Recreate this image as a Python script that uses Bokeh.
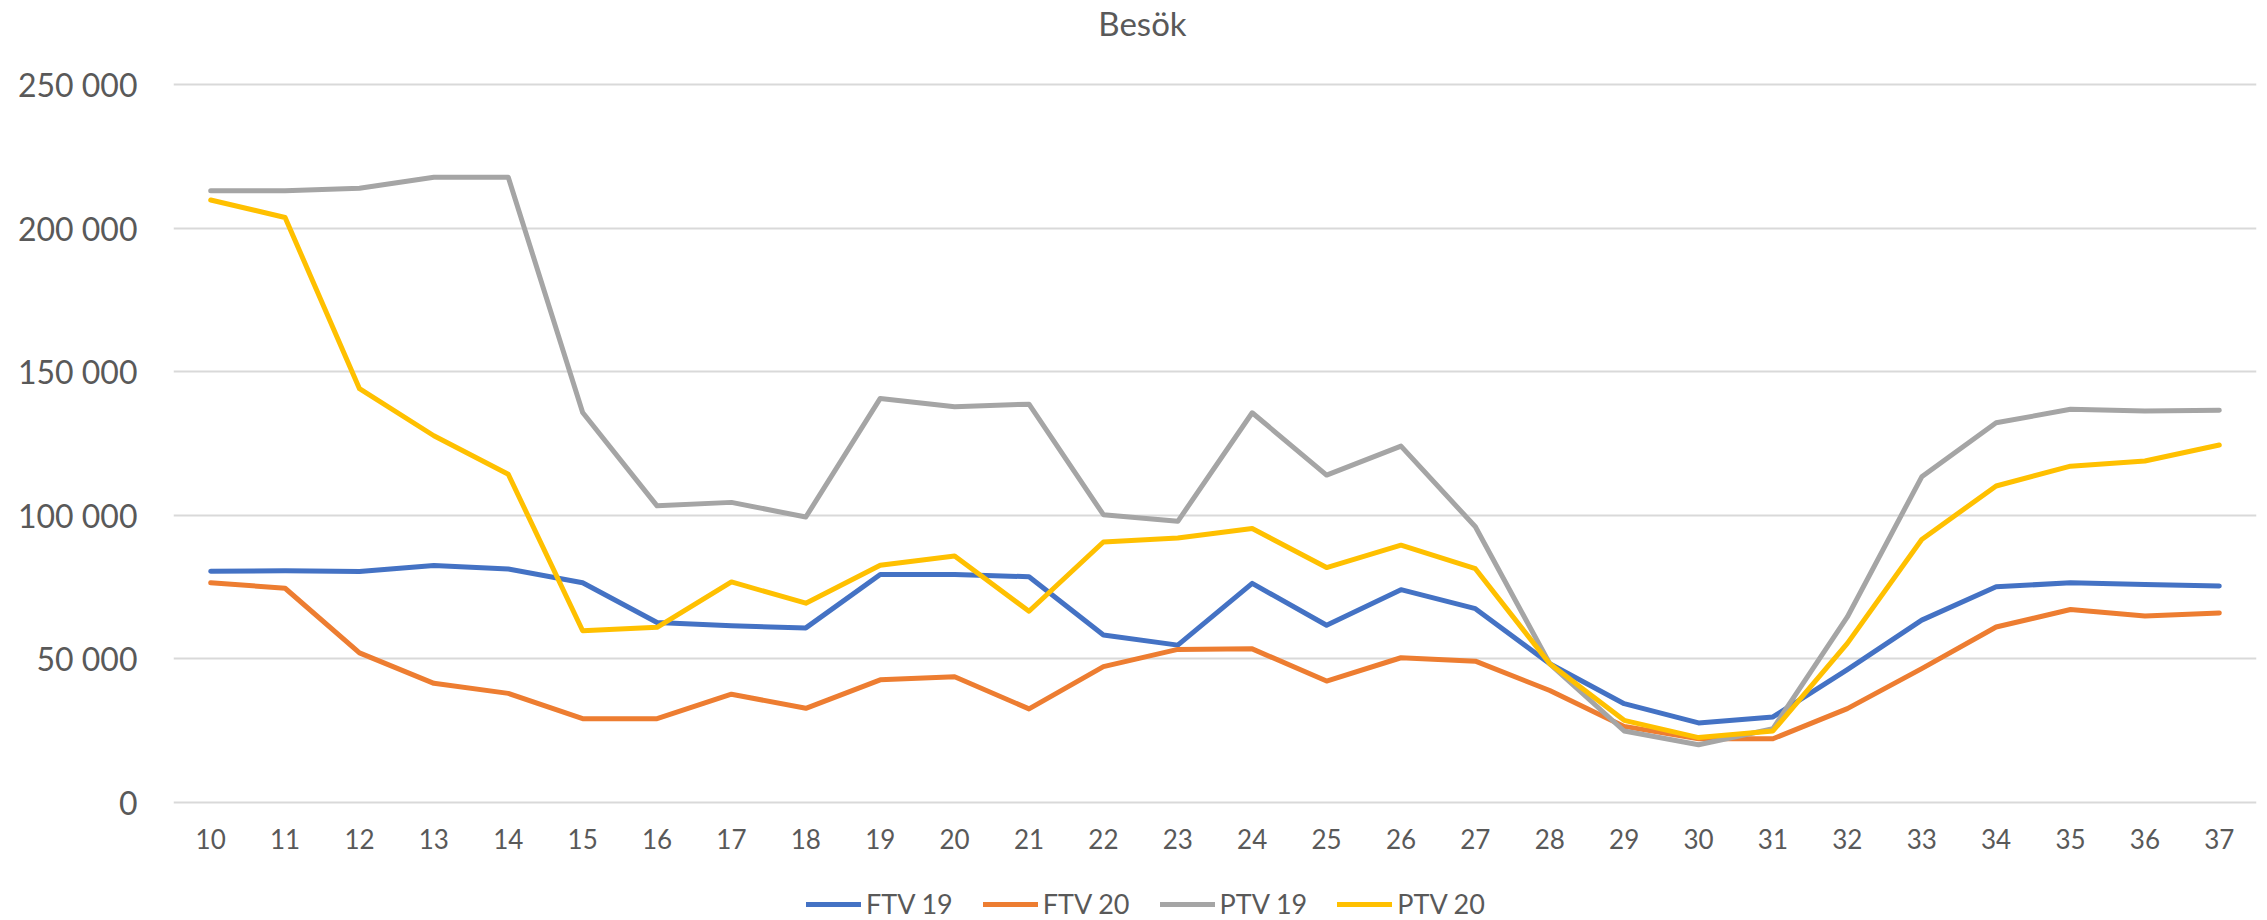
from bokeh.plotting import figure
from bokeh.layouts import column
from bokeh.models import (FactorRange, Range1d, FixedTicker, Legend, LegendItem, Label)
from bokeh.embed import file_html
from bokeh.resources import INLINE

# ---- data ----
weeks = [str(w) for w in range(10, 38)]
ftv19 = [80500, 80700, 80400, 82500, 81300, 76500, 62700, 61500, 60800, 79400, 79400, 78600, 58300, 54800,
         76300, 61700, 74100, 67500, 48300, 34400, 27700, 29800, 46300, 63500, 75100, 76500, 75900, 75400]
ftv20 = [76500, 74600, 52100, 41500, 38000, 29200, 29200, 37700, 32800, 42700, 43800, 32600, 47300, 53300,
         53500, 42300, 50400, 49200, 39000, 26500, 22200, 22200, 32700, 46600, 61100, 67200, 64900, 66000]
ptv19 = [213000, 213000, 213900, 217700, 217700, 135800, 103300, 104500, 99400, 140700, 137800, 138700, 100200, 97900,
         135700, 114000, 124100, 96000, 48300, 24900, 20100, 25700, 64600, 113400, 132200, 136900, 136300, 136600]
ptv20 = [209800, 203700, 144100, 127700, 114300, 59800, 61000, 76800, 69400, 82600, 85800, 66600, 90700, 92100,
         95400, 81800, 89600, 81400, 48300, 28600, 22600, 24900, 55400, 91600, 110200, 117100, 118900, 124500]
series_names = ["FTV 19", "FTV 20", "PTV 19", "PTV 20"]
series_colors = ["#4472C4", "#ED7D31", "#A5A5A5", "#FFC000"]
y_ticks = [0, 50000, 100000, 150000, 200000, 250000]
y_tick_labels = ["0", "50 000", "100 000", "150 000", "200 000", "250 000"]
title_text = "Besök"

FONT = "Lato"
TXT = "#595959"

W = 2267
MAIN_H = 862
FRAME_H = 806
PX_TOP_TICK = 84      # from frame top
PX_ZERO = 802
k = (y_ticks[-1] - y_ticks[0]) / (PX_ZERO - PX_TOP_TICK)
y_end = y_ticks[-1] + PX_TOP_TICK * k
y_start = y_ticks[0] - (FRAME_H - PX_ZERO) * k

p = figure(width=W, height=MAIN_H,
           output_backend="svg", toolbar_location=None, title=None,
           x_range=FactorRange(factors=weeks, range_padding=0),
           y_range=Range1d(y_start, y_end),
           min_border_left=173, min_border_right=11, min_border_top=0,
           min_border_bottom=MAIN_H - FRAME_H)
p.outline_line_color = None
p.background_fill_color = "white"
p.border_fill_color = "white"

for vals, col in zip([ftv19, ftv20, ptv19, ptv20], series_colors):
    p.line(weeks, vals, line_color=col, line_width=5, line_cap="round", line_join="round")

p.add_layout(Label(x=969, y=FRAME_H - 22, x_units="screen", y_units="screen", text=title_text,
                   text_align="center", text_baseline="alphabetic",
                   text_font=FONT, text_font_size="33px", text_color=TXT))

p.xgrid.grid_line_color = None
p.ygrid.grid_line_color = "#D9D9D9"
p.ygrid.grid_line_width = 2
p.yaxis.ticker = FixedTicker(ticks=y_ticks)
p.yaxis.major_label_overrides = {t_: l for t_, l in zip(y_ticks, y_tick_labels)}
for ax in (p.xaxis[0], p.yaxis[0]):
    ax.axis_line_color = None
    ax.major_tick_line_color = None
    ax.minor_tick_line_color = None
    ax.major_tick_out = 0
    ax.major_tick_in = 0
    ax.minor_tick_out = 0
    ax.major_label_text_font = FONT
    ax.major_label_text_color = TXT
p.yaxis.major_label_text_font_size = "32px"
p.yaxis.major_label_standoff = 36
p.xaxis.major_label_text_font_size = "26px"
p.xaxis.major_label_standoff = 22

# legend strip below the chart
LEG_H = 920 - MAIN_H
q = figure(width=W, height=LEG_H, output_backend="svg", toolbar_location=None, title=None,
           x_range=Range1d(1, 2), y_range=Range1d(1, 2), x_axis_type=None, y_axis_type=None,
           min_border_left=0, min_border_right=0, min_border_top=0, min_border_bottom=0)
q.outline_line_color = None
q.grid.visible = False
items = []
for name, col in zip(series_names, series_colors):
    r = q.line(x=[0], y=[0], line_color=col, line_width=5, line_cap="round")
    items.append(LegendItem(label=name, renderers=[r]))
legend = Legend(items=items, orientation="horizontal", location=(633, 0),
                glyph_width=55, glyph_height=20, label_standoff=5, spacing=30,
                padding=0, margin=0, border_line_color=None, background_fill_alpha=0,
                label_text_font=FONT, label_text_font_size="27px", label_text_color=TXT)
q.add_layout(legend, "center")

open("out.html", "w").write(file_html(column(p, q, spacing=0), INLINE))
